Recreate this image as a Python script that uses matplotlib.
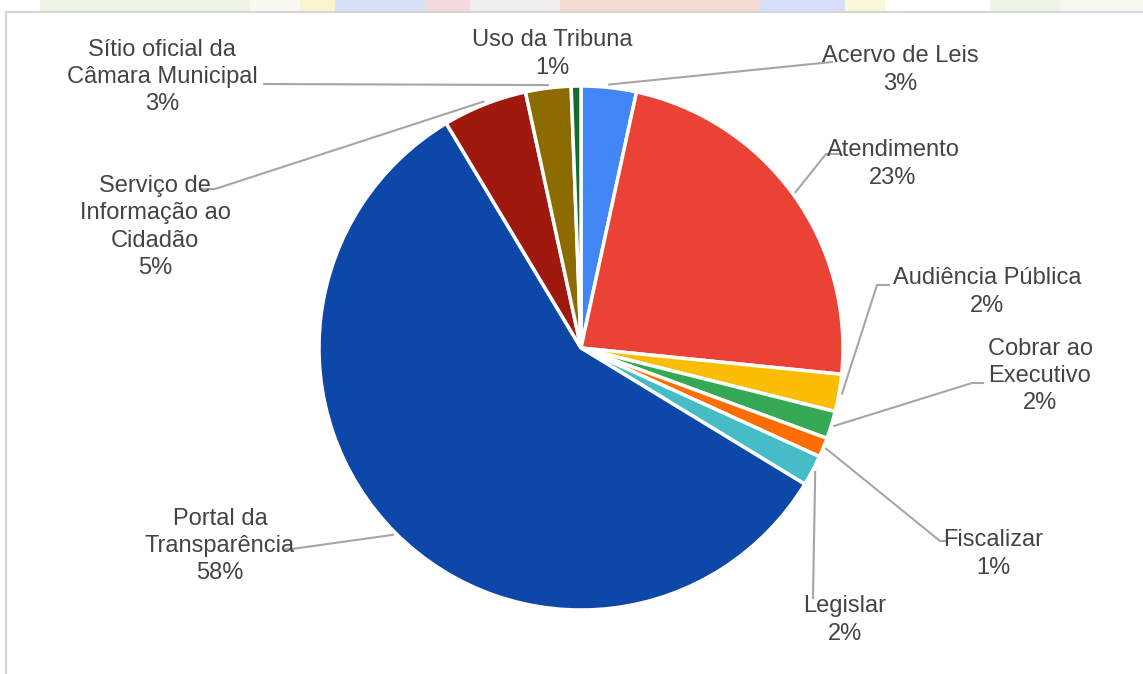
import matplotlib
matplotlib.use("Agg")
from matplotlib import pyplot as plt
from matplotlib.patches import Rectangle
import numpy as np

plt.rcParams['font.family'] = ['Liberation Sans', 'DejaVu Sans']

# Share of requests by channel (percent)
labels = ["Acervo de Leis", "Atendimento", "Audiência Pública",
          "Cobrar ao\nExecutivo", "Fiscalizar", "Legislar",
          "Portal da\nTransparência", "Serviço de\nInformação ao\nCidadão",
          "Sítio oficial da\nCâmara Municipal", "Uso da Tribuna"]
values = [3.4, 23.2, 2.3, 1.7, 1.2, 1.9, 57.7, 5.2, 2.8, 0.6]
colors = ["#4285F4", "#EA4335", "#FBBC04", "#34A853", "#FF6D01", "#46BDC6",
          "#0D47A8", "#A0190F", "#8C6C00", "#146C2E"]

W, H = 1143, 674
fig = plt.figure(figsize=(W / 100, H / 100), dpi=100)

# faded banner strip above the chart frame
strip = [(0, 40, "#ffffff"), (40, 250, "#eef5e4"), (250, 300, "#f9f9f2"),
         (300, 335, "#fbf5cf"), (335, 425, "#d8e1f9"), (425, 470, "#f6d9dd"),
         (470, 560, "#f1eeee"), (560, 760, "#f6dbd2"), (760, 845, "#d6defa"),
         (845, 885, "#fbf8d9"), (885, 990, "#ffffff"), (990, 1060, "#eef5e6"),
         (1060, 1143, "#f6f8f0")]
for x0, x1, c in strip:
    fig.add_artist(Rectangle((x0 / W, (H - 12) / H), (x1 - x0) / W, 12 / H,
                             transform=fig.transFigure, color=c, lw=0, zorder=0))

ax = fig.add_axes([0, 0, 1, 1])
ax.add_patch(Rectangle((6, 0), W, H - 12, facecolor="white", edgecolor="none", zorder=0))
ax.plot([6, W], [H - 12, H - 12], color="#d6d6d6", lw=1.6, zorder=1)
ax.plot([6, 6], [0, H - 12], color="#d6d6d6", lw=1.6, zorder=1)

cx, cy, r = 581, H - 348, 262
ax.pie(values, colors=colors, startangle=90, counterclock=False,
       center=(cx, cy), radius=r, frame=True,
       wedgeprops=dict(edgecolor="white", linewidth=2.5))
ax.set_xlim(0, W)
ax.set_ylim(0, H)
ax.set_aspect("equal")
ax.axis("off")

# label centre (x, y from top) and leader path points near the text
label_pos = [(900, 70), (893, 164), (987, 292), (1040, 376), (993, 554),
             (845, 620), (220, 546), (155, 227), (162, 77), (552, 54)]
leaders = [[(832, 62)], [(826, 154), (840, 154)], [(877, 285), (889, 285)],
           [(972, 383), (983, 383)], [(940, 541), (945, 541)], [(813, 598)],
           [(292, 549), (286, 549)], [(215, 189), (200, 189)],
           [(264, 84)], None]

total = sum(values)
cum = np.cumsum([0] + values[:-1])
for i, lab in enumerate(labels):
    pct = round(values[i] / total * 100)
    tx, ty = label_pos[i]
    ax.text(tx, H - ty, f"{lab}\n{pct}%", ha="center", va="center",
            fontsize=17, color="#444444", linespacing=1.3, zorder=5)
    if leaders[i] is None:
        continue
    mid = (cum[i] + values[i] / 2) / total * 2 * np.pi
    px = cx + (r + 3) * np.sin(mid)
    py = cy + (r + 3) * np.cos(mid)
    xs = [px] + [p[0] for p in leaders[i]]
    ys = [py] + [H - p[1] for p in leaders[i]]
    ax.plot(xs, ys, color="#a6a6a6", lw=1.5, zorder=4)

fig.savefig("out.png", dpi=100)
